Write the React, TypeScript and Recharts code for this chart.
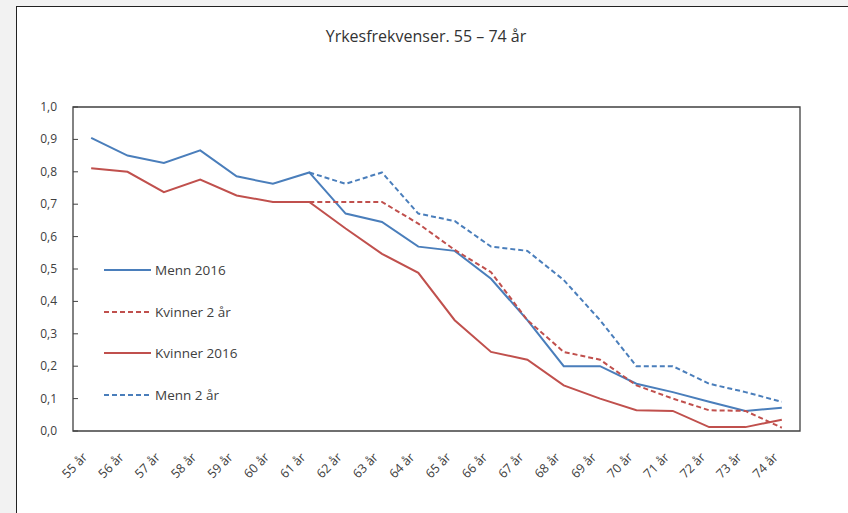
import React from "react";
import {
  LineChart,
  Line,
  XAxis,
  YAxis,
  Legend,
  ReferenceArea,
} from "recharts";

// ── Data ─────────────────────────────────────────────────

const AGES = [
  "55 år", "56 år", "57 år", "58 år", "59 år", "60 år", "61 år", "62 år", "63 år", "64 år",
  "65 år", "66 år", "67 år", "68 år", "69 år", "70 år", "71 år", "72 år", "73 år", "74 år",
];

const MENN_2016 = [
  0.905, 0.85, 0.827, 0.866, 0.786, 0.763, 0.798, 0.671, 0.645, 0.569,
  0.556, 0.47, 0.342, 0.2, 0.2, 0.146, 0.12, 0.09, 0.062, 0.072,
];

const KVINNER_2_AAR = [
  null, null, null, null, null, null, 0.707, 0.707, 0.707, 0.64,
  0.559, 0.49, 0.342, 0.244, 0.22, 0.141, 0.1, 0.064, 0.062, 0.01,
];

const KVINNER_2016 = [
  0.811, 0.8, 0.737, 0.776, 0.727, 0.707, 0.707, 0.625, 0.547, 0.488,
  0.342, 0.244, 0.22, 0.141, 0.1, 0.064, 0.062, 0.012, 0.012, 0.035,
];

const MENN_2_AAR = [
  null, null, null, null, null, null, 0.798, 0.763, 0.798, 0.671,
  0.648, 0.569, 0.556, 0.466, 0.342, 0.2, 0.2, 0.146, 0.12, 0.09,
];

const Y_TICKS = [0, 0.1, 0.2, 0.3, 0.4, 0.5, 0.6, 0.7, 0.8, 0.9, 1];

// ── Styles ───────────────────────────────────────────────

const BLUE = "#4a7ebb";
const RED = "#c0504d";
const DASH = "5 3";
const FONT = "'Open Sans', sans-serif";
const TEXT = "#404040";
const AXIS = "#404040";

const SERIES = [
  { key: "menn2016", name: "Menn 2016", color: BLUE, dash: undefined },
  { key: "kvinner2", name: "Kvinner 2 år", color: RED, dash: DASH },
  { key: "kvinner2016", name: "Kvinner 2016", color: RED, dash: undefined },
  { key: "menn2", name: "Menn 2 år", color: BLUE, dash: DASH },
];

const data = AGES.map((age, i) => ({
  age,
  menn2016: MENN_2016[i],
  kvinner2: KVINNER_2_AAR[i],
  kvinner2016: KVINNER_2016[i],
  menn2: MENN_2_AAR[i],
}));

const fmt = (v: number) => v.toFixed(1).replace(".", ",");

// ── Ticks ────────────────────────────────────────────────

// labels sit outside the frame, the little tick marks point inwards
function LeftTick(props: any) {
  const { x, y, payload } = props;
  return (
    <g>
      <path d={`M${x + 16},${y}h5`} stroke={AXIS} strokeWidth={1} />
      <text x={x} y={y} dy={4} textAnchor="end" fontSize={12} fill={TEXT} fontFamily={FONT}>
        {fmt(payload.value)}
      </text>
    </g>
  );
}

function RightTick(props: any) {
  const { x, y, payload } = props;
  return (
    <g>
      <path d={`M${x - 16},${y}h-5`} stroke={AXIS} strokeWidth={1} />
      <text x={x} y={y} dy={4} textAnchor="start" fontSize={12} fill={TEXT} fontFamily={FONT}>
        {fmt(payload.value)}
      </text>
    </g>
  );
}

function AgeTick(props: any) {
  const { x, y, payload } = props;
  const ax = x - 3;
  return (
    <text
      x={ax}
      y={y}
      textAnchor="end"
      fontSize={12.5}
      fill={TEXT}
      fontFamily={FONT}
      transform={`rotate(-45 ${ax} ${y})`}
    >
      {payload.value}
    </text>
  );
}

function renderLegend() {
  return (
    <div style={{ fontFamily: FONT, fontSize: 13.5, color: TEXT }}>
      {SERIES.map((s) => (
        <div key={s.key} style={{ display: "flex", alignItems: "center", height: 41.7 }}>
          <svg width={48} height={6}>
            <line x1={0} x2={47} y1={3} y2={3} stroke={s.color} strokeWidth={2} strokeDasharray={s.dash} />
          </svg>
          <span style={{ marginLeft: 3 }}>{s.name}</span>
        </div>
      ))}
    </div>
  );
}

// ── App ──────────────────────────────────────────────────

export default function App() {
  return (
    <div style={{ position: "absolute", left: 0, top: 0, width: 848, height: 513, background: "#f2f2f2", overflow: "hidden" }}>
      <div
        style={{
          position: "absolute",
          left: 16,
          top: 6,
          width: 860,
          height: 540,
          background: "#fff",
          border: "1.5px solid #222",
        }}
      />
      <div
        style={{
          position: "absolute",
          left: 0,
          top: 25,
          width: 852,
          textAlign: "center",
          fontFamily: FONT,
          fontSize: 16,
          color: "#333",
        }}
      >
        Yrkesfrekvenser. 55 – 74 år
      </div>
      <div style={{ position: "absolute", left: 0, top: 0 }}>
        <LineChart width={848} height={513} data={data} margin={{ top: 107, right: 8, bottom: 22, left: 33 }}>
          <XAxis
            dataKey="age"
            scale="band"
            interval={0}
            height={60}
            tickLine={false}
            tickSize={0}
            tickMargin={27}
            axisLine={false}
            tick={<AgeTick />}
          />
          <YAxis
            yAxisId="left"
            domain={[0, 1]}
            ticks={Y_TICKS}
            width={40}
            tickLine={false}
            tickSize={0}
            tickMargin={16}
            axisLine={false}
            tick={<LeftTick />}
          />
          <YAxis
            yAxisId="right"
            orientation="right"
            domain={[0, 1]}
            ticks={Y_TICKS}
            width={40}
            tickLine={false}
            tickSize={0}
            tickMargin={16}
            axisLine={false}
            tick={<RightTick />}
          />
          <ReferenceArea
            yAxisId="left"
            x1={AGES[0]}
            x2={AGES[AGES.length - 1]}
            y1={0}
            y2={1}
            fill="none"
            fillOpacity={0}
            stroke={AXIS}
            strokeWidth={1.3}
            ifOverflow="visible"
          />
          <Legend
            content={renderLegend}
            layout="vertical"
            verticalAlign="middle"
            align="center"
            wrapperStyle={{ left: 104, top: 249, width: 170 }}
          />
          {SERIES.map((s) => (
            <Line
              key={s.key}
              yAxisId="left"
              dataKey={s.key}
              name={s.name}
              stroke={s.color}
              strokeWidth={2}
              strokeDasharray={s.dash}
              dot={false}
              activeDot={false}
              isAnimationActive={false}
            />
          ))}
        </LineChart>
      </div>
    </div>
  );
}
